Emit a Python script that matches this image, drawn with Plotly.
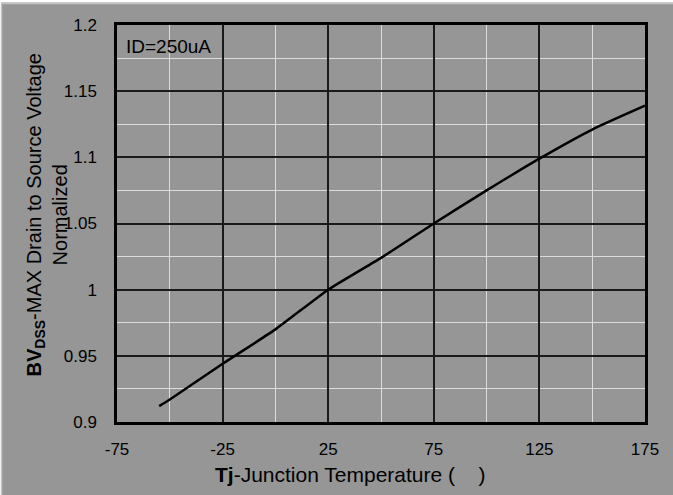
import plotly.graph_objects as go

# Data
temp = [-55, -50, -25, 0, 25, 50, 75, 100, 125, 150, 175]
bv_norm = [0.912, 0.917, 0.944, 0.970, 1.000, 1.024, 1.050, 1.075, 1.099, 1.121, 1.139]

x_ticks = [-75, -25, 25, 75, 125, 175]
x_tick_text = ["-75", "-25", "25", "75", "125", "175"]
y_ticks = [0.9, 0.95, 1.0, 1.05, 1.1, 1.15, 1.2]
y_tick_text = ["0.9", "0.95", "1", "1.05", "1.1", "1.15", "1.2"]

BG = "#969696"
FONT = "Liberation Sans, Arial, sans-serif"

W, H = 673, 495
L, R, T, B = 117, 28, 25, 73
PW, PH = W - L - R, H - T - B


def px(xp):
    return (xp - L) / PW


def py(yp):
    return (H - B - yp) / PH


fig = go.Figure()
fig.add_trace(go.Scatter(x=temp, y=bv_norm, mode="lines",
                         line=dict(color="black", width=2.5, shape="spline", smoothing=0.5),
                         showlegend=False, hoverinfo="x+y"))

axis_common = dict(showline=True, mirror=True, linecolor="black", linewidth=2.5,
                   showgrid=True, gridcolor="#1a1a1a", gridwidth=1.5,
                   zeroline=False, ticks="",
                   tickfont=dict(family=FONT, size=17, color="black"))

fig.update_xaxes(range=[-75, 175], tickvals=x_ticks, ticktext=x_tick_text,
                 minor=dict(dtick=25, tick0=-75, showgrid=True, gridcolor="#dcdcdc", gridwidth=1),
                 ticklabelstandoff=10, **axis_common)
fig.update_yaxes(range=[0.9, 1.2], tickvals=y_ticks, ticktext=y_tick_text,
                 minor=dict(dtick=0.025, tick0=0.9, showgrid=True, gridcolor="#dcdcdc", gridwidth=1),
                 ticklabelstandoff=14, **axis_common)

fig.update_layout(
    width=W, height=H,
    margin=dict(l=L, r=R, t=T, b=B, pad=0),
    paper_bgcolor=BG, plot_bgcolor=BG,
    font=dict(family=FONT, color="black"),
    annotations=[
        dict(text="<b>BV<sub>DSS</sub></b>-MAX Drain to Source Voltage<br>Normalized",
             xref="paper", yref="paper", x=px(46), y=py(215.5),
             xanchor="center", yanchor="middle", textangle=-90, showarrow=False,
             font=dict(family=FONT, size=20, color="black")),
        dict(text="<b>Tj</b>-Junction Temperature (    )",
             xref="paper", yref="paper", x=px(350), y=py(474),
             xanchor="center", yanchor="middle", showarrow=False,
             font=dict(family=FONT, size=21, color="black")),
        dict(text="ID=250uA", xref="paper", yref="paper", x=px(124), y=py(46),
             xanchor="left", yanchor="middle", showarrow=False,
             font=dict(family=FONT, size=19, color="black")),
    ],
    shapes=[
        dict(type="rect", xref="paper", yref="paper", x0=px(-5), x1=px(W + 5), y0=py(2.5), y1=py(-5),
             fillcolor="white", line=dict(width=0), layer="below"),
        dict(type="rect", xref="paper", yref="paper", x0=px(-5), x1=px(1), y0=py(H + 5), y1=py(-5),
             fillcolor="white", line=dict(width=0), layer="below"),
        dict(type="line", xref="paper", yref="paper", x0=px(1.5), x1=px(W + 5), y0=py(3.5), y1=py(3.5),
             line=dict(color="#c4c4c4", width=1.5), layer="below"),
        dict(type="line", xref="paper", yref="paper", x0=px(1.5), x1=px(1.5), y0=py(3.5), y1=py(H + 5),
             line=dict(color="#c4c4c4", width=1.5), layer="below"),
    ],
)

fig.write_html("out.html", config={"displayModeBar": False},
               post_script="document.body.style.margin='0';document.body.style.overflow='hidden';")
